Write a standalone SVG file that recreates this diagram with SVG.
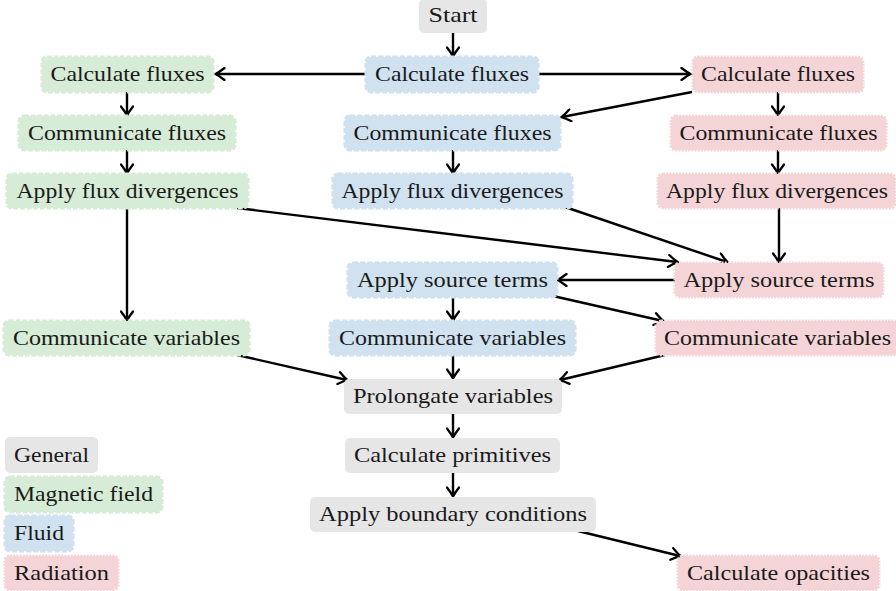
<svg xmlns="http://www.w3.org/2000/svg" width="896" height="591" viewBox="0 0 896 591" font-family="Liberation Serif, DejaVu Serif, serif" font-size="22">
<defs>
<style>
text{fill:#1a1a1a;text-anchor:middle}
.g rect{fill:#e6e6e6}
.m rect{fill:#d6ecd6;stroke:#d6ecd6;stroke-width:3;stroke-dasharray:5 1.6}
.f rect{fill:#d0e2ef;stroke:#d0e2ef;stroke-width:3;stroke-dasharray:5.5 1.6}
.r rect{fill:#f5d4d7;stroke:#f5d4d7;stroke-width:3;stroke-dasharray:2 1.2}
#connectors path{fill:none;stroke:#000;stroke-width:2.4;marker-end:url(#ah)}
</style>
<marker id="ah" markerUnits="userSpaceOnUse" markerWidth="14" markerHeight="14" viewBox="-9 -7 11 14" refX="0" refY="0" orient="auto">
<path d="M-8.5,-6 Q-3,-1.7 0.6,0 Q-3,1.7 -8.5,6" fill="none" stroke="#000" stroke-width="2.3" stroke-linecap="round"/>
</marker>
</defs>
<rect width="896" height="591" fill="#fff"/>

<g id="connectors">
<path d="M453,33 L453,56"/>
<path d="M366,74 L216,74"/>
<path d="M538,74 L690,74"/>
<path d="M127,92 L127,115"/>
<path d="M453,150 L453,173"/>
<path d="M778,92 L778,115"/>
<path d="M127,150 L127,173"/>
<path d="M778,150 L778,173"/>
<path d="M692,92 L562,117"/>
<path d="M127,208 L127,320"/>
<path d="M237,208 L677,262"/>
<path d="M565,207 L727,262"/>
<path d="M779,208 L779,262"/>
<path d="M675,280 L558,280"/>
<path d="M453,297 L453,320"/>
<path d="M553,296 L663,321"/>
<path d="M237,355 L347,380"/>
<path d="M453,355 L453,378"/>
<path d="M665,355 L560,380"/>
<path d="M453,414 L453,437"/>
<path d="M453,473 L453,496"/>
<path d="M578,531 L680,556"/>
</g>

<g id="start" class="g"><rect x="419" y="-1" width="68" height="34" rx="5"/><text x="453" y="22" textLength="49" lengthAdjust="spacingAndGlyphs">Start</text></g>

<g id="g_calc_fluxes" class="m"><rect x="42" y="57" width="171" height="35" rx="5"/><text x="127.5" y="81" textLength="154" lengthAdjust="spacingAndGlyphs">Calculate fluxes</text></g>
<g id="f_calc_fluxes" class="f"><rect x="366" y="57" width="172" height="35" rx="5"/><text x="452" y="81" textLength="154" lengthAdjust="spacingAndGlyphs">Calculate fluxes</text></g>
<g id="r_calc_fluxes" class="r"><rect x="693" y="57" width="170" height="35" rx="5"/><text x="778" y="81" textLength="154" lengthAdjust="spacingAndGlyphs">Calculate fluxes</text></g>

<g id="g_comm_fluxes" class="m"><rect x="19" y="116" width="216" height="34" rx="5"/><text x="127" y="140" textLength="198" lengthAdjust="spacingAndGlyphs">Communicate fluxes</text></g>
<g id="f_comm_fluxes" class="f"><rect x="345" y="116" width="215" height="34" rx="5"/><text x="452.5" y="140" textLength="198" lengthAdjust="spacingAndGlyphs">Communicate fluxes</text></g>
<g id="r_comm_fluxes" class="r"><rect x="671" y="116" width="215" height="34" rx="5"/><text x="778.5" y="140" textLength="198" lengthAdjust="spacingAndGlyphs">Communicate fluxes</text></g>

<g id="g_apply_div" class="m"><rect x="7" y="174" width="241" height="34" rx="5"/><text x="127.5" y="198" textLength="222" lengthAdjust="spacingAndGlyphs">Apply flux divergences</text></g>
<g id="f_apply_div" class="f"><rect x="333" y="174" width="239" height="34" rx="5"/><text x="452.5" y="198" textLength="222" lengthAdjust="spacingAndGlyphs">Apply flux divergences</text></g>
<g id="r_apply_div" class="r"><rect x="658" y="174" width="237" height="34" rx="5"/><text x="777" y="198" textLength="222" lengthAdjust="spacingAndGlyphs">Apply flux divergences</text></g>

<g id="f_source" class="f"><rect x="348" y="263" width="209" height="34" rx="5"/><text x="452.5" y="287" textLength="191" lengthAdjust="spacingAndGlyphs">Apply source terms</text></g>
<g id="r_source" class="r"><rect x="675" y="263" width="208" height="34" rx="5"/><text x="779" y="287" textLength="191" lengthAdjust="spacingAndGlyphs">Apply source terms</text></g>

<g id="g_comm_vars" class="m"><rect x="4" y="321" width="245" height="34" rx="5"/><text x="126.5" y="345" textLength="227" lengthAdjust="spacingAndGlyphs">Communicate variables</text></g>
<g id="f_comm_vars" class="f"><rect x="330" y="321" width="245" height="34" rx="5"/><text x="452.5" y="345" textLength="227" lengthAdjust="spacingAndGlyphs">Communicate variables</text></g>
<g id="r_comm_vars" class="r"><rect x="656" y="321" width="242" height="34" rx="5"/><text x="777.5" y="345" textLength="227" lengthAdjust="spacingAndGlyphs">Communicate variables</text></g>

<g id="prolongate" class="g"><rect x="344" y="379" width="218" height="35" rx="5"/><text x="453" y="403" textLength="200" lengthAdjust="spacingAndGlyphs">Prolongate variables</text></g>
<g id="primitives" class="g"><rect x="345" y="438" width="215" height="35" rx="5"/><text x="452.5" y="462" textLength="197" lengthAdjust="spacingAndGlyphs">Calculate primitives</text></g>
<g id="boundary" class="g"><rect x="310" y="497" width="286" height="35" rx="5"/><text x="453" y="521" textLength="268" lengthAdjust="spacingAndGlyphs">Apply boundary conditions</text></g>
<g id="opacities" class="r"><rect x="678" y="556" width="201" height="34" rx="5"/><text x="778.5" y="580" textLength="183" lengthAdjust="spacingAndGlyphs">Calculate opacities</text></g>

<g id="legend_general" class="g"><rect x="5" y="437" width="93" height="36" rx="5"/><text x="51.5" y="462" textLength="75" lengthAdjust="spacingAndGlyphs">General</text></g>
<g id="legend_magnetic" class="m"><rect x="5" y="477" width="157" height="35" rx="5"/><text x="83.5" y="501" textLength="139" lengthAdjust="spacingAndGlyphs">Magnetic field</text></g>
<g id="legend_fluid" class="f"><rect x="5" y="516" width="68" height="35" rx="5"/><text x="39" y="540" textLength="50" lengthAdjust="spacingAndGlyphs">Fluid</text></g>
<g id="legend_radiation" class="r"><rect x="5" y="556" width="113" height="34" rx="5"/><text x="61.5" y="580" textLength="95" lengthAdjust="spacingAndGlyphs">Radiation</text></g>
</svg>
